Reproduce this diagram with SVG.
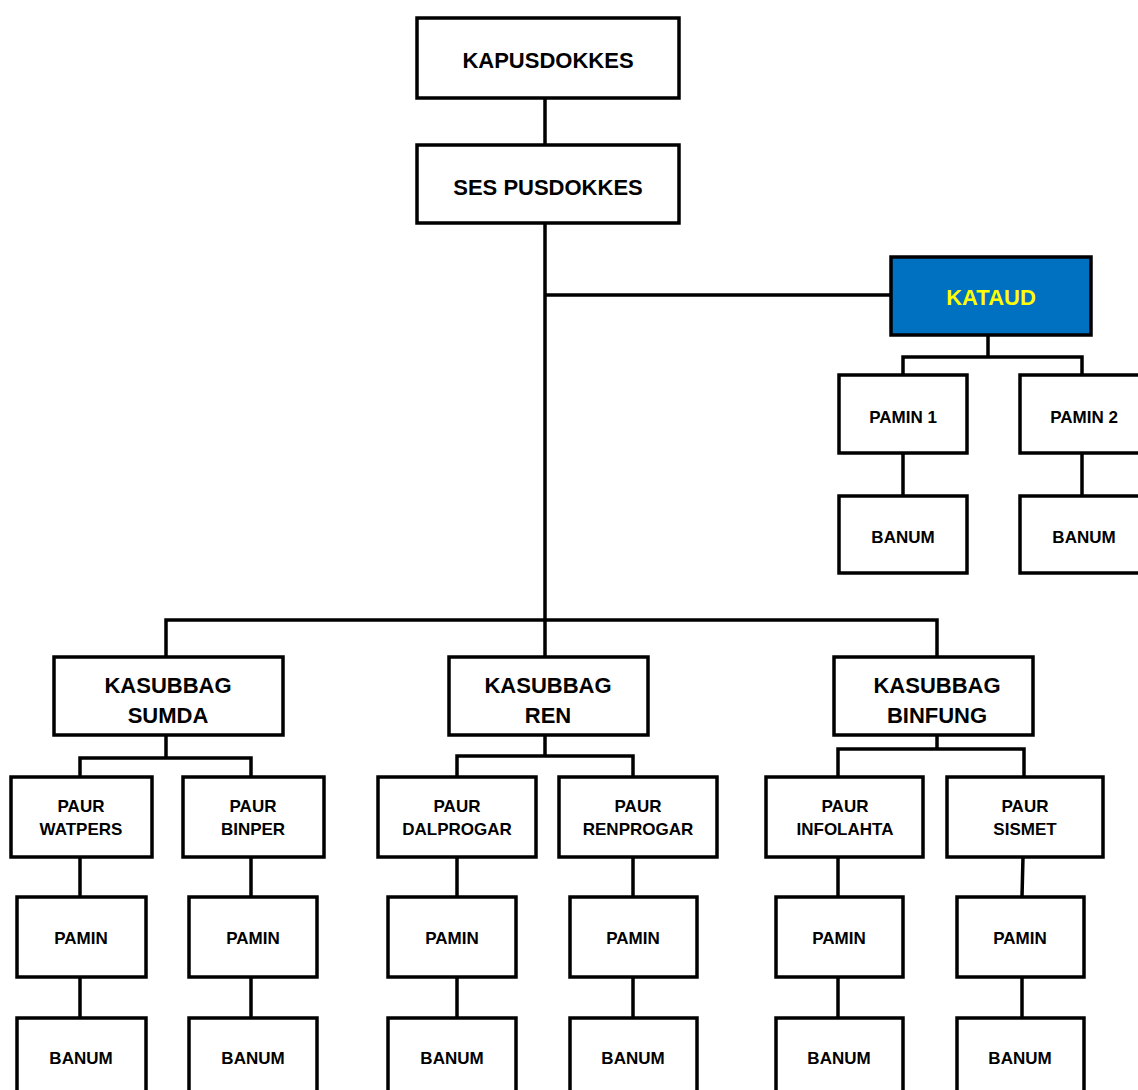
<svg xmlns="http://www.w3.org/2000/svg" width="1138" height="1090" viewBox="0 0 1138 1090">
<style>
.box{fill:#fff;stroke:#000;stroke-width:3.5}
.blue{fill:#0070C0;stroke:#000;stroke-width:3.5}
.big{font-family:"Liberation Sans",Arial,sans-serif;font-weight:bold;font-size:22px;text-anchor:middle;fill:#000}
.sm{font-family:"Liberation Sans",Arial,sans-serif;font-weight:bold;font-size:17px;text-anchor:middle;fill:#000}
.yl{fill:#FFFF00}
.ln{fill:none;stroke:#000;stroke-width:3.5;stroke-linecap:square}
</style>
<rect width="1138" height="1090" fill="#fff"/>
<g id="connectors">
<path class="ln" d="M545,98V145M545,223V657M545,295H891"/>
<path class="ln" d="M988,335V357M903,375V357H1082V375M903,453V496M1082,453V496"/>
<path class="ln" d="M166,657V620H937V657"/>
<path class="ln" d="M166,735V758M80,777V758H251V777"/>
<path class="ln" d="M545,735V756M457,777V756H633V777"/>
<path class="ln" d="M937,735V749M838,777V749H1024V777"/>
<path class="ln" d="M80,857V897M251,857V897M457,857V897M633,857V897M838,857V897M1023,857L1022,897"/>
<path class="ln" d="M80,977V1018M251,977V1018M457,977V1018M633,977V1018M838,977V1018M1022,977V1018"/>
</g>
<g id="kapusdokkes"><rect class="box" x="417" y="18" width="262" height="80"/><text class="big" x="548" y="68">KAPUSDOKKES</text></g>
<g id="ses"><rect class="box" x="417" y="145" width="262" height="78"/><text class="big" x="548" y="195">SES PUSDOKKES</text></g>
<g id="kataud"><rect class="blue" x="891" y="257" width="200" height="78"/><text class="big yl" x="991" y="305">KATAUD</text></g>
<g id="kataud-pamin1"><rect class="box" x="839" y="375" width="128" height="78"/><text class="sm" x="903" y="423">PAMIN 1</text></g>
<g id="kataud-pamin2"><rect class="box" x="1020" y="375" width="128" height="78"/><text class="sm" x="1084" y="423">PAMIN 2</text></g>
<g id="kataud-banum1"><rect class="box" x="839" y="496" width="128" height="77"/><text class="sm" x="903" y="543">BANUM</text></g>
<g id="kataud-banum2"><rect class="box" x="1020" y="496" width="128" height="77"/><text class="sm" x="1084" y="543">BANUM</text></g>
<g id="sumda"><rect class="box" x="54" y="657" width="229" height="78"/><text class="big" x="168" y="693">KASUBBAG</text><text class="big" x="168" y="723">SUMDA</text></g>
<g id="ren"><rect class="box" x="449" y="657" width="199" height="78"/><text class="big" x="548" y="693">KASUBBAG</text><text class="big" x="548" y="723">REN</text></g>
<g id="binfung"><rect class="box" x="834" y="657" width="199" height="78"/><text class="big" x="937" y="693">KASUBBAG</text><text class="big" x="937" y="723">BINFUNG</text></g>
<g id="watpers"><rect class="box" x="11" y="777" width="141" height="80"/><text class="sm" x="81" y="812">PAUR</text><text class="sm" x="81" y="835">WATPERS</text></g>
<g id="binper"><rect class="box" x="183" y="777" width="141" height="80"/><text class="sm" x="253" y="812">PAUR</text><text class="sm" x="253" y="835">BINPER</text></g>
<g id="dalprogar"><rect class="box" x="378" y="777" width="158" height="80"/><text class="sm" x="457" y="812">PAUR</text><text class="sm" x="457" y="835">DALPROGAR</text></g>
<g id="renprogar"><rect class="box" x="559" y="777" width="158" height="80"/><text class="sm" x="638" y="812">PAUR</text><text class="sm" x="638" y="835">RENPROGAR</text></g>
<g id="infolahta"><rect class="box" x="766" y="777" width="157" height="80"/><text class="sm" x="845" y="812">PAUR</text><text class="sm" x="845" y="835">INFOLAHTA</text></g>
<g id="sismet"><rect class="box" x="947" y="777" width="156" height="80"/><text class="sm" x="1025" y="812">PAUR</text><text class="sm" x="1025" y="835">SISMET</text></g>
<g id="pamin-a"><rect class="box" x="17" y="897" width="129" height="80"/><text class="sm" x="81" y="944">PAMIN</text></g>
<g id="pamin-b"><rect class="box" x="189" y="897" width="128" height="80"/><text class="sm" x="253" y="944">PAMIN</text></g>
<g id="pamin-c"><rect class="box" x="388" y="897" width="128" height="80"/><text class="sm" x="452" y="944">PAMIN</text></g>
<g id="pamin-d"><rect class="box" x="570" y="897" width="127" height="80"/><text class="sm" x="633" y="944">PAMIN</text></g>
<g id="pamin-e"><rect class="box" x="776" y="897" width="127" height="80"/><text class="sm" x="839" y="944">PAMIN</text></g>
<g id="pamin-f"><rect class="box" x="957" y="897" width="127" height="80"/><text class="sm" x="1020" y="944">PAMIN</text></g>
<g id="banum-a"><rect class="box" x="17" y="1018" width="129" height="80"/><text class="sm" x="81" y="1064">BANUM</text></g>
<g id="banum-b"><rect class="box" x="189" y="1018" width="128" height="80"/><text class="sm" x="253" y="1064">BANUM</text></g>
<g id="banum-c"><rect class="box" x="388" y="1018" width="128" height="80"/><text class="sm" x="452" y="1064">BANUM</text></g>
<g id="banum-d"><rect class="box" x="570" y="1018" width="127" height="80"/><text class="sm" x="633" y="1064">BANUM</text></g>
<g id="banum-e"><rect class="box" x="776" y="1018" width="127" height="80"/><text class="sm" x="839" y="1064">BANUM</text></g>
<g id="banum-f"><rect class="box" x="957" y="1018" width="127" height="80"/><text class="sm" x="1020" y="1064">BANUM</text></g>
</svg>
